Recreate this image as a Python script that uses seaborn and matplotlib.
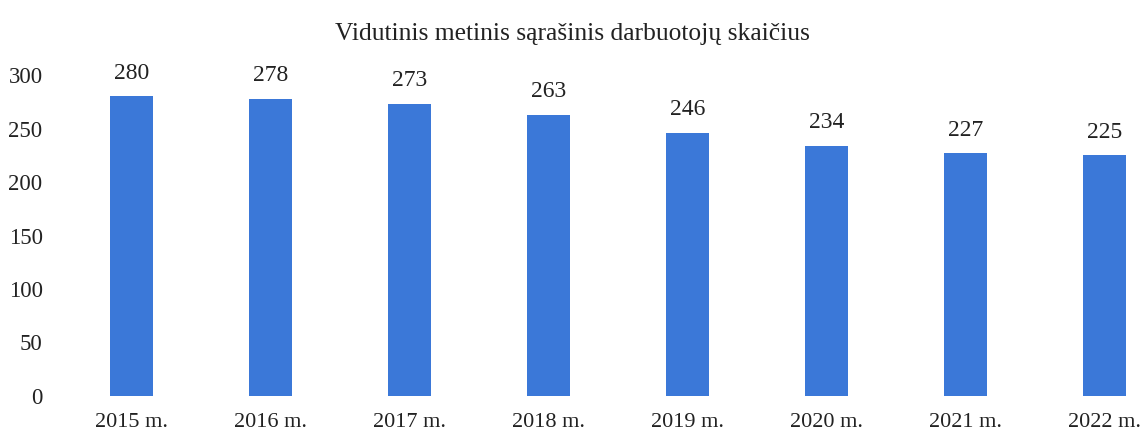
import pandas as pd
import matplotlib.pyplot as plt
import seaborn as sns

# Data
years = ['2015 m.', '2016 m.', '2017 m.', '2018 m.', '2019 m.', '2020 m.', '2021 m.', '2022 m.']
employees = [280, 278, 273, 263, 246, 234, 227, 225]

df = pd.DataFrame({'year': years, 'employees': employees})

sns.set_style('white')
plt.rcParams['font.family'] = ['Liberation Serif', 'DejaVu Serif']

fig = plt.figure(figsize=(11.44, 4.34), dpi=100)
ax = fig.add_axes([62 / 1144, 38 / 434, 1084 / 1144, 321 / 434])

sns.barplot(x='year', y='employees', data=df, color='#3b78d8', saturation=1,
            width=0.31, linewidth=0, ax=ax)

for i, v in enumerate(employees):
    ax.annotate(str(v), (i, v), xytext=(0, 9), textcoords='offset points',
                ha='center', va='bottom', fontsize=17, color='#222222',
                annotation_clip=False)

ax.set_xlim(-0.5, 7.3)
ax.set_ylim(0, 300)
ax.set_yticks(range(0, 301, 50))
ax.set_xlabel('')
ax.set_ylabel('')
ax.tick_params(axis='x', length=0, pad=12, labelsize=16, labelcolor='#222222')
ax.tick_params(axis='y', length=0, pad=14, labelsize=16.5, labelcolor='#222222')
sns.despine(ax=ax, left=True, bottom=True)

fig.text(0.5, 0.922, 'Vidutinis metinis sąrašinis darbuotojų skaičius',
         ha='center', va='center', fontsize=18.4, color='#222222')

plt.savefig('out.png', dpi=100)
